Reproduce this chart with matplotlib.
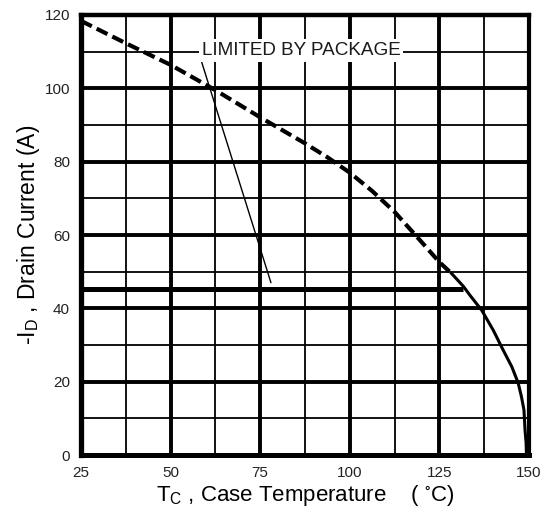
import matplotlib
matplotlib.use("Agg")
import matplotlib.pyplot as plt

plt.rcParams['font.family'] = ['Liberation Sans', 'DejaVu Sans']
plt.rcParams['mathtext.default'] = 'regular'

# silicon limit (dashed part, then the solid tail)
tc_si = [25, 37.5, 50, 62.5, 75, 87.5, 93.75, 100, 106.25, 112.5, 118.75, 125, 128.4]
id_si = [118.4, 112.3, 106.4, 99.5, 92.1, 85, 81.2, 77, 72, 66.3, 59.5, 52.6, 49.5]
tc_tail = [128.4, 131.7, 133.5, 136.8, 140, 142.8, 145.2, 147, 147.9, 148.6, 148.9, 149.2, 149.3]
id_tail = [49.5, 46, 43.6, 39.5, 34.1, 28.6, 24.1, 19.6, 15.9, 12.3, 6.8, 3.3, 0]

# package limit
pkg_tc = [25, 131.7]
pkg_id = [45.3, 45.3]
label_xy = (86.4, 110.3)
leader_from = (58.5, 107.7)
leader_to = (78, 47)

x_ticks = [25, 50, 75, 100, 125, 150]
y_ticks = [0, 20, 40, 60, 80, 100, 120]

fig = plt.figure(figsize=(5.45, 5.19), dpi=100)
ax = fig.add_axes([0.1486, 0.1233, 0.9706 - 0.1486, 0.9711 - 0.1233])

ax.set_xlim(25, 150)
ax.set_ylim(0, 120)

# grid: thin every 12.5 / 10, thick on the labelled values
for x in range(1, 10):
    xv = 25 + 12.5 * x
    thick = xv in x_ticks
    ax.axvline(xv, color='black', lw=2.8 if thick else 1.3, zorder=1)
for y in range(10, 120, 10):
    thick = y in y_ticks
    ax.axhline(y, color='black', lw=2.8 if thick else 1.3, zorder=1)

ax.plot(tc_si, id_si, color='black', lw=3, dashes=(2.9, 1.3), zorder=3)
ax.plot(tc_tail, id_tail, color='black', lw=2.2, zorder=3)
ax.plot(pkg_tc, pkg_id, color='black', lw=3.6, solid_capstyle='butt', zorder=3)

ax.annotate('', xy=leader_to, xytext=leader_from,
            arrowprops=dict(arrowstyle='-', color='black', lw=1.0,
                            shrinkA=0, shrinkB=0), zorder=4)
ax.text(label_xy[0], label_xy[1], 'LIMITED BY PACKAGE', fontsize=13.6,
        ha='center', va='center', color='#1a1a1a', zorder=5,
        bbox=dict(boxstyle='square,pad=0.15', fc='white', ec='none'))

ax.set_xticks(x_ticks)
ax.set_yticks(y_ticks)
ax.tick_params(length=0, labelsize=11, labelcolor='#222222')
ax.tick_params(axis='x', pad=8)
ax.tick_params(axis='y', pad=8)

for side, w in [('left', 3.8), ('bottom', 3.6), ('top', 3.2), ('right', 3.0)]:
    ax.spines[side].set_linewidth(w)
    ax.spines[side].set_zorder(6)

ax.set_xlabel(r'T$_{C}$ , Case Temperature    ( $^{\circ}$C)', fontsize=16, labelpad=2)
ax.set_ylabel(r'-I$_{D}$ , Drain Current (A)', fontsize=16.5, labelpad=2)

fig.savefig('out.png', dpi=100)
